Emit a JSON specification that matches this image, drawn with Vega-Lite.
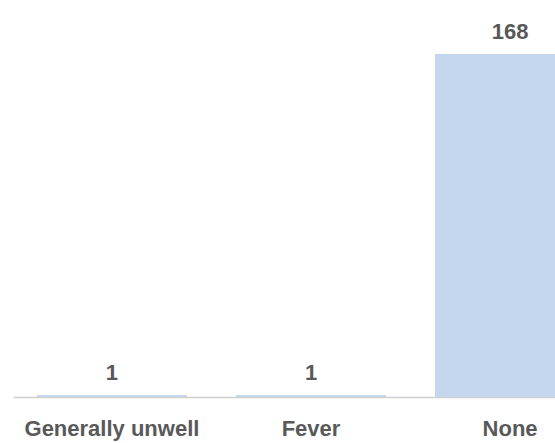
{
  "$schema": "https://vega.github.io/schema/vega-lite/v6.json",
  "autosize": {"type": "none"},
  "padding": {"left": 13, "top": 54, "right": 0, "bottom": 46},
  "width": 596,
  "height": 343,
  "background": "white",
  "config": {
    "view": {"stroke": null},
    "font": "Liberation Sans"
  },
  "data": {
    "values": [
      {"symptom": "Generally unwell", "count": 1},
      {"symptom": "Fever", "count": 1},
      {"symptom": "None", "count": 168}
    ]
  },
  "encoding": {
    "x": {
      "field": "symptom",
      "type": "nominal",
      "sort": null,
      "scale": {"paddingInner": 0.246, "paddingOuter": 0.12},
      "axis": {
        "title": null,
        "labelAngle": 0,
        "ticks": false,
        "domainColor": "#d0d0d0",
        "domainWidth": 1.5,
        "labelFont": "Liberation Sans",
        "labelFontSize": 22,
        "labelFontWeight": "bold",
        "labelColor": "#595959",
        "labelPadding": 21
      }
    },
    "y": {
      "field": "count",
      "type": "quantitative",
      "scale": {"domain": [0, 168], "nice": false},
      "axis": null
    }
  },
  "layer": [
    {"mark": {"type": "bar", "color": "#c5d7ef"}},
    {
      "mark": {
        "type": "text",
        "baseline": "alphabetic",
        "dy": -15,
        "font": "Liberation Sans",
        "fontSize": 22,
        "fontWeight": "bold",
        "color": "#595959"
      },
      "encoding": {"text": {"field": "count", "type": "quantitative"}}
    }
  ]
}
